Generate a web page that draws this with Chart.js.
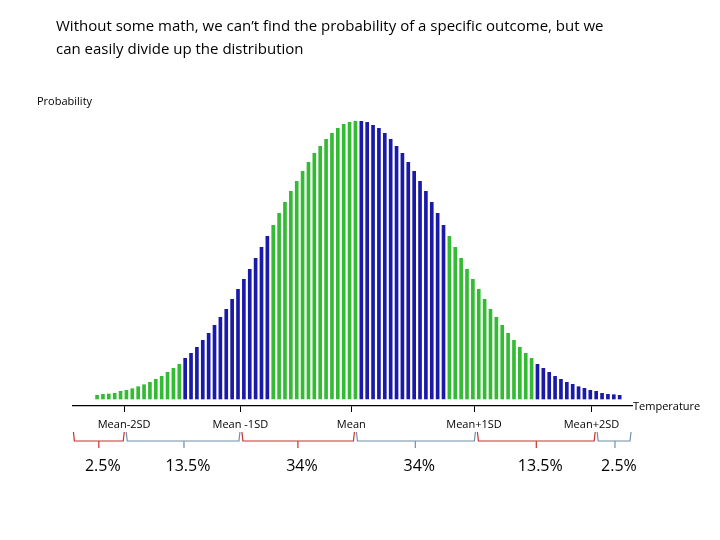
<!DOCTYPE html>
<html>
<head>
<meta charset="utf-8">
<script src="https://cdn.jsdelivr.net/npm/chart.js@4"></script>
<style>
  body { margin: 0; background: #fff; }
  #wrap { position: relative; width: 720px; height: 540px; }
  #title { position: absolute; left: 56px; top: 14px; font: 15px "Open Sans", sans-serif; line-height: 23px; color: #000; }
  #ylab { position: absolute; left: 37px; top: 93px; font: 11px "Open Sans", sans-serif; color: #000; }
</style>
</head>
<body>
<div id="wrap">
  <canvas id="distChart" width="720" height="540"></canvas>
  <div id="title">Without some math, we can’t find the probability of a specific outcome, but we<br>can easily divide up the distribution</div>
  <div id="ylab">Probability</div>
</div>
<script>
// bar heights, left to right
const heights = [
  3.7, 4.7, 5, 5.7, 7.7, 8.7, 10.3, 12.3, 14.3, 16.7, 19.7, 22.7, 26.7, 30.7, 34.7,
  40.7, 45.7, 51.7, 58.7, 65.7, 73.7, 81.7, 89.7, 99.7, 109.7, 119.7, 129.7, 140.7, 151.7, 162.7,
  173.7, 185.7, 196.7, 207.7, 217.7, 227.7, 236.7, 245.7, 252.7, 259.7, 265.7, 270.7, 274.7, 276.7, 277.7,
  277.7, 276.7, 273.7, 270.7, 265.7, 259.7, 252.7, 245.7, 236.7, 227.7, 217.7, 207.7, 196.7, 185.7, 173.7,
  162.7, 151.7, 140.7, 129.7, 119.7, 109.7, 99.7, 89.7, 81.7, 73.7, 65.7, 58.7, 51.7, 45.7, 40.7,
  34.7, 30.7, 26.7, 22.7, 19.7, 16.7, 14.7, 12.3, 10.7, 8.7, 7.7, 5.7, 4.7, 4.3, 3.7
];
// colour blocks: 15 bars each, alternating green / blue
const blockColors = ["#33bb33", "#1a1aaa", "#33bb33", "#1a1aaa", "#33bb33", "#1a1aaa"];
const tickPositions = [4.6, 24.4, 43.3, 64.2, 84.2];
const tickLabels = ["Mean-2SD", "Mean -1SD", "Mean", "Mean+1SD", "Mean+2SD"];
const bracketEdges = [-4.2, 4.8, 24.5, 44, 64.6, 85, 91.1];
const bracketCenters = [0.3, 14.8, 34.2, 54.2, 74.8, 88.2];
const percentLabels = ["2.5%", "13.5%", "34%", "34%", "13.5%", "2.5%"];

const points = heights.map((h, i) => ({ x: i, y: h }));
const colors = heights.map((h, i) => blockColors[Math.floor(i / 15)]);

const extras = {
  id: "extras",
  afterDraw(chart) {
    const c = chart.ctx;
    const xs = chart.scales.x;
    const base = chart.chartArea.bottom;
    c.save();
    c.font = '11px "Open Sans", sans-serif';
    c.fillStyle = "#000";
    c.textBaseline = "middle";
    c.textAlign = "left";
    c.fillText("Temperature", chart.chartArea.right + 1, base + 1);
    c.lineWidth = 1.2;
    for (let k = 0; k < percentLabels.length; k++) {
      const x0 = xs.getPixelForValue(bracketEdges[k]);
      const x1 = xs.getPixelForValue(bracketEdges[k + 1]);
      const xm = xs.getPixelForValue(bracketCenters[k]);
      c.strokeStyle = k % 2 === 0 ? "#cc2f2f" : "#6f8fa8";
      c.beginPath();
      c.moveTo(x0 + 1, 432);
      c.lineTo(x0 + 2, 441);
      c.lineTo(x1 - 2, 441);
      c.lineTo(x1 - 1, 432);
      c.moveTo(xm, 441);
      c.lineTo(xm, 448);
      c.stroke();
      c.fillStyle = "#000";
      c.textAlign = "center";
      c.font = '16px "Open Sans", sans-serif';
      c.fillText(percentLabels[k], xm + 4, 466);
    }
    c.restore();
  }
};

new Chart(document.getElementById("distChart"), {
  type: "bar",
  data: {
    datasets: [{
      data: points,
      backgroundColor: colors,
      barThickness: 3
    }]
  },
  options: {
    responsive: false,
    animation: false,
    layout: { padding: { top: 121, left: 73, right: 88, bottom: 0 } },
    plugins: { legend: { display: false }, tooltip: { enabled: false } },
    scales: {
      x: {
        type: "linear",
        offset: false,
        min: -4.1,
        max: 91.1,
        afterBuildTicks: s => { s.ticks = tickPositions.map(v => ({ value: v })); },
        afterFit: s => { s.height = 134; },
        ticks: {
          callback: (v, i) => tickLabels[i],
          color: "#000",
          font: { family: "Open Sans", size: 11 },
          padding: 6,
          maxRotation: 0,
          autoSkip: false
        },
        grid: { offset: false, drawOnChartArea: false, color: "#000", tickLength: 6 },
        border: { color: "#000", width: 1.2 }
      },
      y: {
        display: false,
        min: -7,
        max: 278
      }
    }
  },
  plugins: [extras]
});
</script>
</body>
</html>
